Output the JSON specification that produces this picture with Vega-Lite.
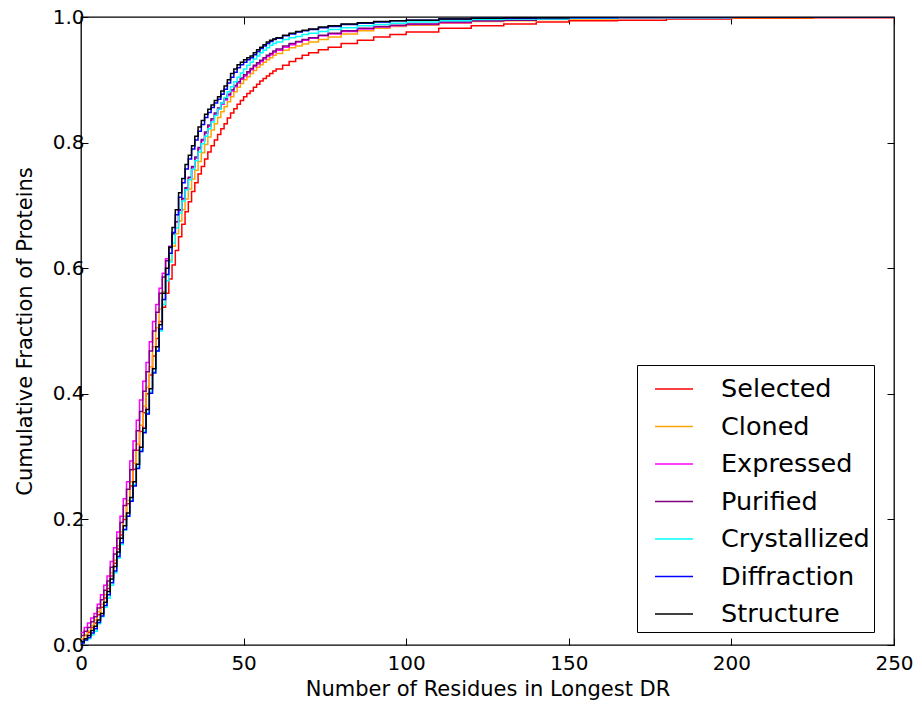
{
  "$schema": "https://vega.github.io/schema/vega-lite/v6.json",
  "width": 813,
  "height": 628,
  "autosize": {"type": "none"},
  "padding": {"left": 81, "top": 17, "right": 28, "bottom": 59},
  "background": "white",
  "config": {
    "font": "DejaVu Sans",
    "view": {"stroke": "#000000", "strokeWidth": 1.3},
    "axis": {
      "grid": false,
      "domain": false,
      "tickColor": "#000000",
      "tickWidth": 1,
      "tickSize": -7,
      "labelColor": "#000000",
      "labelFont": "DejaVu Sans",
      "labelFontSize": 20,
      "titleColor": "#000000",
      "titleFont": "DejaVu Sans",
      "titleFontSize": 21,
      "titleFontWeight": "normal"
    }
  },
  "data": {
    "values": [
      {"n": 0, "Selected": 0.010, "Cloned": 0.010, "Expressed": 0.020, "Purified": 0.015, "Crystallized": 0.003, "Diffraction": 0.003, "Structure": 0.005},
      {"n": 1, "Selected": 0.015, "Cloned": 0.016, "Expressed": 0.028, "Purified": 0.022, "Crystallized": 0.007, "Diffraction": 0.008, "Structure": 0.010},
      {"n": 2, "Selected": 0.020, "Cloned": 0.022, "Expressed": 0.035, "Purified": 0.028, "Crystallized": 0.010, "Diffraction": 0.012, "Structure": 0.015},
      {"n": 3, "Selected": 0.028, "Cloned": 0.031, "Expressed": 0.043, "Purified": 0.037, "Crystallized": 0.016, "Diffraction": 0.019, "Structure": 0.023},
      {"n": 4, "Selected": 0.035, "Cloned": 0.040, "Expressed": 0.050, "Purified": 0.045, "Crystallized": 0.022, "Diffraction": 0.026, "Structure": 0.030},
      {"n": 5, "Selected": 0.048, "Cloned": 0.053, "Expressed": 0.065, "Purified": 0.059, "Crystallized": 0.034, "Diffraction": 0.036, "Structure": 0.040},
      {"n": 6, "Selected": 0.060, "Cloned": 0.065, "Expressed": 0.080, "Purified": 0.072, "Crystallized": 0.045, "Diffraction": 0.046, "Structure": 0.050},
      {"n": 7, "Selected": 0.075, "Cloned": 0.080, "Expressed": 0.095, "Purified": 0.087, "Crystallized": 0.060, "Diffraction": 0.063, "Structure": 0.068},
      {"n": 8, "Selected": 0.090, "Cloned": 0.095, "Expressed": 0.110, "Purified": 0.102, "Crystallized": 0.075, "Diffraction": 0.080, "Structure": 0.085},
      {"n": 9, "Selected": 0.110, "Cloned": 0.115, "Expressed": 0.133, "Purified": 0.124, "Crystallized": 0.095, "Diffraction": 0.099, "Structure": 0.105},
      {"n": 10, "Selected": 0.130, "Cloned": 0.135, "Expressed": 0.155, "Purified": 0.145, "Crystallized": 0.115, "Diffraction": 0.118, "Structure": 0.125},
      {"n": 11, "Selected": 0.153, "Cloned": 0.158, "Expressed": 0.180, "Purified": 0.170, "Crystallized": 0.138, "Diffraction": 0.141, "Structure": 0.148},
      {"n": 12, "Selected": 0.175, "Cloned": 0.180, "Expressed": 0.205, "Purified": 0.195, "Crystallized": 0.160, "Diffraction": 0.163, "Structure": 0.170},
      {"n": 13, "Selected": 0.200, "Cloned": 0.205, "Expressed": 0.233, "Purified": 0.222, "Crystallized": 0.183, "Diffraction": 0.184, "Structure": 0.190},
      {"n": 14, "Selected": 0.225, "Cloned": 0.230, "Expressed": 0.260, "Purified": 0.248, "Crystallized": 0.205, "Diffraction": 0.205, "Structure": 0.210},
      {"n": 15, "Selected": 0.253, "Cloned": 0.260, "Expressed": 0.293, "Purified": 0.279, "Crystallized": 0.230, "Diffraction": 0.229, "Structure": 0.235},
      {"n": 16, "Selected": 0.280, "Cloned": 0.290, "Expressed": 0.325, "Purified": 0.310, "Crystallized": 0.255, "Diffraction": 0.253, "Structure": 0.260},
      {"n": 17, "Selected": 0.310, "Cloned": 0.320, "Expressed": 0.358, "Purified": 0.341, "Crystallized": 0.283, "Diffraction": 0.281, "Structure": 0.288},
      {"n": 18, "Selected": 0.340, "Cloned": 0.350, "Expressed": 0.390, "Purified": 0.372, "Crystallized": 0.310, "Diffraction": 0.308, "Structure": 0.315},
      {"n": 19, "Selected": 0.370, "Cloned": 0.380, "Expressed": 0.420, "Purified": 0.404, "Crystallized": 0.340, "Diffraction": 0.338, "Structure": 0.345},
      {"n": 20, "Selected": 0.400, "Cloned": 0.410, "Expressed": 0.450, "Purified": 0.435, "Crystallized": 0.370, "Diffraction": 0.368, "Structure": 0.375},
      {"n": 21, "Selected": 0.430, "Cloned": 0.443, "Expressed": 0.483, "Purified": 0.468, "Crystallized": 0.403, "Diffraction": 0.401, "Structure": 0.408},
      {"n": 22, "Selected": 0.460, "Cloned": 0.475, "Expressed": 0.515, "Purified": 0.500, "Crystallized": 0.435, "Diffraction": 0.433, "Structure": 0.440},
      {"n": 23, "Selected": 0.488, "Cloned": 0.505, "Expressed": 0.542, "Purified": 0.530, "Crystallized": 0.468, "Diffraction": 0.468, "Structure": 0.475},
      {"n": 24, "Selected": 0.515, "Cloned": 0.535, "Expressed": 0.568, "Purified": 0.560, "Crystallized": 0.500, "Diffraction": 0.503, "Structure": 0.510},
      {"n": 25, "Selected": 0.538, "Cloned": 0.563, "Expressed": 0.592, "Purified": 0.586, "Crystallized": 0.542, "Diffraction": 0.550, "Structure": 0.560},
      {"n": 26, "Selected": 0.560, "Cloned": 0.590, "Expressed": 0.615, "Purified": 0.612, "Crystallized": 0.580, "Diffraction": 0.590, "Structure": 0.600},
      {"n": 27, "Selected": 0.583, "Cloned": 0.613, "Expressed": 0.635, "Purified": 0.634, "Crystallized": 0.610, "Diffraction": 0.624, "Structure": 0.633},
      {"n": 28, "Selected": 0.605, "Cloned": 0.635, "Expressed": 0.655, "Purified": 0.655, "Crystallized": 0.640, "Diffraction": 0.657, "Structure": 0.665},
      {"n": 29, "Selected": 0.628, "Cloned": 0.655, "Expressed": 0.674, "Purified": 0.674, "Crystallized": 0.664, "Diffraction": 0.685, "Structure": 0.693},
      {"n": 30, "Selected": 0.650, "Cloned": 0.675, "Expressed": 0.692, "Purified": 0.693, "Crystallized": 0.688, "Diffraction": 0.713, "Structure": 0.720},
      {"n": 31, "Selected": 0.670, "Cloned": 0.693, "Expressed": 0.710, "Purified": 0.711, "Crystallized": 0.707, "Diffraction": 0.736, "Structure": 0.743},
      {"n": 32, "Selected": 0.690, "Cloned": 0.710, "Expressed": 0.727, "Purified": 0.728, "Crystallized": 0.725, "Diffraction": 0.758, "Structure": 0.765},
      {"n": 33, "Selected": 0.706, "Cloned": 0.726, "Expressed": 0.744, "Purified": 0.745, "Crystallized": 0.741, "Diffraction": 0.774, "Structure": 0.780},
      {"n": 34, "Selected": 0.722, "Cloned": 0.742, "Expressed": 0.760, "Purified": 0.762, "Crystallized": 0.757, "Diffraction": 0.790, "Structure": 0.795},
      {"n": 35, "Selected": 0.736, "Cloned": 0.756, "Expressed": 0.775, "Purified": 0.777, "Crystallized": 0.771, "Diffraction": 0.804, "Structure": 0.810},
      {"n": 36, "Selected": 0.750, "Cloned": 0.770, "Expressed": 0.790, "Purified": 0.792, "Crystallized": 0.785, "Diffraction": 0.818, "Structure": 0.825},
      {"n": 37, "Selected": 0.762, "Cloned": 0.784, "Expressed": 0.803, "Purified": 0.805, "Crystallized": 0.798, "Diffraction": 0.829, "Structure": 0.835},
      {"n": 38, "Selected": 0.774, "Cloned": 0.797, "Expressed": 0.815, "Purified": 0.817, "Crystallized": 0.810, "Diffraction": 0.840, "Structure": 0.845},
      {"n": 39, "Selected": 0.785, "Cloned": 0.809, "Expressed": 0.826, "Purified": 0.828, "Crystallized": 0.822, "Diffraction": 0.848, "Structure": 0.853},
      {"n": 40, "Selected": 0.795, "Cloned": 0.820, "Expressed": 0.836, "Purified": 0.838, "Crystallized": 0.833, "Diffraction": 0.856, "Structure": 0.860},
      {"n": 41, "Selected": 0.804, "Cloned": 0.830, "Expressed": 0.845, "Purified": 0.847, "Crystallized": 0.843, "Diffraction": 0.863, "Structure": 0.867},
      {"n": 42, "Selected": 0.813, "Cloned": 0.840, "Expressed": 0.853, "Purified": 0.855, "Crystallized": 0.853, "Diffraction": 0.869, "Structure": 0.873},
      {"n": 43, "Selected": 0.822, "Cloned": 0.849, "Expressed": 0.861, "Purified": 0.863, "Crystallized": 0.863, "Diffraction": 0.877, "Structure": 0.882},
      {"n": 44, "Selected": 0.830, "Cloned": 0.857, "Expressed": 0.868, "Purified": 0.870, "Crystallized": 0.872, "Diffraction": 0.885, "Structure": 0.890},
      {"n": 45, "Selected": 0.839, "Cloned": 0.865, "Expressed": 0.875, "Purified": 0.877, "Crystallized": 0.881, "Diffraction": 0.895, "Structure": 0.900},
      {"n": 46, "Selected": 0.847, "Cloned": 0.873, "Expressed": 0.882, "Purified": 0.884, "Crystallized": 0.889, "Diffraction": 0.904, "Structure": 0.910},
      {"n": 47, "Selected": 0.854, "Cloned": 0.881, "Expressed": 0.889, "Purified": 0.891, "Crystallized": 0.897, "Diffraction": 0.912, "Structure": 0.917},
      {"n": 48, "Selected": 0.861, "Cloned": 0.888, "Expressed": 0.895, "Purified": 0.897, "Crystallized": 0.904, "Diffraction": 0.919, "Structure": 0.924},
      {"n": 49, "Selected": 0.867, "Cloned": 0.894, "Expressed": 0.901, "Purified": 0.903, "Crystallized": 0.911, "Diffraction": 0.924, "Structure": 0.928},
      {"n": 50, "Selected": 0.873, "Cloned": 0.900, "Expressed": 0.906, "Purified": 0.908, "Crystallized": 0.917, "Diffraction": 0.928, "Structure": 0.932},
      {"n": 51, "Selected": 0.878, "Cloned": 0.905, "Expressed": 0.911, "Purified": 0.913, "Crystallized": 0.923, "Diffraction": 0.932, "Structure": 0.935},
      {"n": 52, "Selected": 0.882, "Cloned": 0.910, "Expressed": 0.916, "Purified": 0.918, "Crystallized": 0.928, "Diffraction": 0.935, "Structure": 0.938},
      {"n": 53, "Selected": 0.888, "Cloned": 0.915, "Expressed": 0.921, "Purified": 0.923, "Crystallized": 0.933, "Diffraction": 0.940, "Structure": 0.943},
      {"n": 54, "Selected": 0.893, "Cloned": 0.920, "Expressed": 0.925, "Purified": 0.927, "Crystallized": 0.938, "Diffraction": 0.945, "Structure": 0.948},
      {"n": 55, "Selected": 0.898, "Cloned": 0.924, "Expressed": 0.929, "Purified": 0.931, "Crystallized": 0.943, "Diffraction": 0.950, "Structure": 0.952},
      {"n": 56, "Selected": 0.902, "Cloned": 0.928, "Expressed": 0.933, "Purified": 0.935, "Crystallized": 0.947, "Diffraction": 0.954, "Structure": 0.956},
      {"n": 57, "Selected": 0.906, "Cloned": 0.932, "Expressed": 0.937, "Purified": 0.939, "Crystallized": 0.951, "Diffraction": 0.958, "Structure": 0.960},
      {"n": 58, "Selected": 0.910, "Cloned": 0.935, "Expressed": 0.940, "Purified": 0.942, "Crystallized": 0.955, "Diffraction": 0.961, "Structure": 0.963},
      {"n": 59, "Selected": 0.914, "Cloned": 0.939, "Expressed": 0.944, "Purified": 0.946, "Crystallized": 0.958, "Diffraction": 0.964, "Structure": 0.965},
      {"n": 60, "Selected": 0.917, "Cloned": 0.942, "Expressed": 0.947, "Purified": 0.949, "Crystallized": 0.960, "Diffraction": 0.966, "Structure": 0.967},
      {"n": 62, "Selected": 0.923, "Cloned": 0.947, "Expressed": 0.952, "Purified": 0.954, "Crystallized": 0.964, "Diffraction": 0.970, "Structure": 0.971},
      {"n": 64, "Selected": 0.929, "Cloned": 0.951, "Expressed": 0.956, "Purified": 0.958, "Crystallized": 0.967, "Diffraction": 0.973, "Structure": 0.974},
      {"n": 66, "Selected": 0.934, "Cloned": 0.954, "Expressed": 0.960, "Purified": 0.961, "Crystallized": 0.969, "Diffraction": 0.976, "Structure": 0.977},
      {"n": 68, "Selected": 0.939, "Cloned": 0.957, "Expressed": 0.963, "Purified": 0.964, "Crystallized": 0.972, "Diffraction": 0.978, "Structure": 0.979},
      {"n": 70, "Selected": 0.943, "Cloned": 0.960, "Expressed": 0.966, "Purified": 0.967, "Crystallized": 0.974, "Diffraction": 0.980, "Structure": 0.981},
      {"n": 73, "Selected": 0.948, "Cloned": 0.964, "Expressed": 0.970, "Purified": 0.971, "Crystallized": 0.977, "Diffraction": 0.983, "Structure": 0.984},
      {"n": 76, "Selected": 0.952, "Cloned": 0.968, "Expressed": 0.973, "Purified": 0.974, "Crystallized": 0.980, "Diffraction": 0.985, "Structure": 0.986},
      {"n": 80, "Selected": 0.958, "Cloned": 0.973, "Expressed": 0.977, "Purified": 0.978, "Crystallized": 0.983, "Diffraction": 0.988, "Structure": 0.989},
      {"n": 85, "Selected": 0.963, "Cloned": 0.978, "Expressed": 0.981, "Purified": 0.982, "Crystallized": 0.986, "Diffraction": 0.990, "Structure": 0.991},
      {"n": 90, "Selected": 0.968, "Cloned": 0.982, "Expressed": 0.984, "Purified": 0.985, "Crystallized": 0.988, "Diffraction": 0.992, "Structure": 0.993},
      {"n": 95, "Selected": 0.972, "Cloned": 0.985, "Expressed": 0.986, "Purified": 0.987, "Crystallized": 0.990, "Diffraction": 0.994, "Structure": 0.994},
      {"n": 100, "Selected": 0.976, "Cloned": 0.987, "Expressed": 0.988, "Purified": 0.989, "Crystallized": 0.992, "Diffraction": 0.995, "Structure": 0.995},
      {"n": 110, "Selected": 0.982, "Cloned": 0.990, "Expressed": 0.991, "Purified": 0.992, "Crystallized": 0.994, "Diffraction": 0.997, "Structure": 0.997},
      {"n": 120, "Selected": 0.986, "Cloned": 0.993, "Expressed": 0.994, "Purified": 0.994, "Crystallized": 0.996, "Diffraction": 0.998, "Structure": 0.998},
      {"n": 130, "Selected": 0.989, "Cloned": 0.994, "Expressed": 0.995, "Purified": 0.995, "Crystallized": 0.997, "Diffraction": 0.998, "Structure": 0.999},
      {"n": 140, "Selected": 0.992, "Cloned": 0.996, "Expressed": 0.997, "Purified": 0.997, "Crystallized": 0.997, "Diffraction": 0.999, "Structure": 0.999},
      {"n": 150, "Selected": 0.994, "Cloned": 0.997, "Expressed": 0.998, "Purified": 0.998, "Crystallized": 0.998, "Diffraction": 0.999, "Structure": 1.0},
      {"n": 165, "Selected": 0.995, "Cloned": 0.998, "Expressed": 0.999, "Purified": 0.999, "Crystallized": 0.999, "Diffraction": 1.0, "Structure": 1.0},
      {"n": 180, "Selected": 0.997, "Cloned": 0.999, "Expressed": 0.999, "Purified": 0.999, "Crystallized": 0.999, "Diffraction": 1.0, "Structure": 1.0},
      {"n": 200, "Selected": 0.998, "Cloned": 0.999, "Expressed": 1.0, "Purified": 1.0, "Crystallized": 1.0, "Diffraction": 1.0, "Structure": 1.0},
      {"n": 225, "Selected": 0.999, "Cloned": 1.0, "Expressed": 1.0, "Purified": 1.0, "Crystallized": 1.0, "Diffraction": 1.0, "Structure": 1.0},
      {"n": 250, "Selected": 1.0, "Cloned": 1.0, "Expressed": 1.0, "Purified": 1.0, "Crystallized": 1.0, "Diffraction": 1.0, "Structure": 1.0}
    ]
  },
  "transform": [
    {"fold": ["Selected", "Cloned", "Expressed", "Purified", "Crystallized", "Diffraction", "Structure"], "as": ["stage", "fraction"]}
  ],
  "layer": [
    {
      "mark": {"type": "line", "interpolate": "step-after", "strokeWidth": 1.5, "clip": true},
      "encoding": {
        "x": {
          "field": "n",
          "type": "quantitative",
          "scale": {"domain": [0, 250], "nice": false, "zero": false},
          "axis": {"orient": "bottom", "values": [0, 50, 100, 150, 200, 250], "title": "Number of Residues in Longest DR", "labelPadding": 15, "titlePadding": 5, "labelFlush": false}
        },
        "y": {
          "field": "fraction",
          "type": "quantitative",
          "scale": {"domain": [0, 1], "nice": false},
          "axis": {"orient": "left", "values": [0, 0.2, 0.4, 0.6, 0.8, 1.0], "format": ".1f", "title": "Cumulative Fraction of Proteins", "labelPadding": 4, "titlePadding": 17, "labelFlush": false}
        },
        "color": {
          "field": "stage",
          "type": "nominal",
          "scale": {
            "domain": ["Selected", "Cloned", "Expressed", "Purified", "Crystallized", "Diffraction", "Structure"],
            "range": ["#ff0000", "#ffa500", "#ff00ff", "#800080", "#00ffff", "#0000ff", "#000000"]
          },
          "legend": {
            "orient": "none",
            "legendX": 556,
            "legendY": 348,
            "title": null,
            "symbolType": "stroke",
            "symbolSize": 1444,
            "symbolStrokeWidth": 1.5,
            "symbolOffset": 13,
            "labelFont": "DejaVu Sans",
            "labelFontSize": 25.5,
            "labelColor": "#000000",
            "labelOffset": 27,
            "rowPadding": 3.5,
            "padding": 4,
            "strokeColor": "#000000",
            "fillColor": "#ffffff"
          }
        }
      }
    },
    {
      "mark": {"type": "point", "opacity": 0},
      "encoding": {
        "x": {"field": "n", "type": "quantitative", "axis": {"orient": "top", "values": [0, 50, 100, 150, 200, 250], "labels": false, "title": null}},
        "y": {"field": "fraction", "type": "quantitative", "axis": {"orient": "right", "values": [0, 0.2, 0.4, 0.6, 0.8, 1.0], "labels": false, "title": null}}
      }
    }
  ],
  "resolve": {"axis": {"x": "independent", "y": "independent"}}
}
